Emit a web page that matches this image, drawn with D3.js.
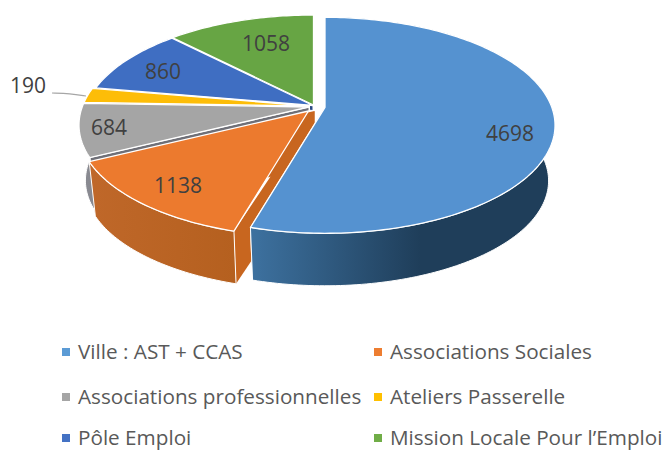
<!DOCTYPE html>
<html><head><meta charset="utf-8">
<script src="https://cdn.jsdelivr.net/npm/d3@7"></script>
<style>html,body{margin:0;padding:0;background:#fff;overflow:hidden}svg{display:block}</style>
</head><body><div id="c"></div>
<script>
const categories = ["Ville : AST + CCAS","Associations Sociales","Associations professionnelles","Ateliers Passerelle","Pôle Emploi","Mission Locale Pour l’Emploi"];
const values = [4698,1138,684,190,860,1058];
const topColors = ["#5592d0","#ec7a2e","#a5a5a5","#fdbd08","#3f6ec2","#67a544"];
const wallDark = ["#1f3e5a","#b5601f","#6f7078","#a87c05","#2a4a85","#44702c"];
const wallLight = ["#3d719f","#c0682a","#8a8b92","#a87c05","#2a4a85","#44702c"];
const legendColors = ["#5b9bd5","#ed7d31","#a5a5a5","#ffc000","#4472c4","#70ad47"];

// layout
const W=670,H=450, base=[311.5,106];
const sliceShift=[[13.5,1.3],[-3,5],[-2.5,1],[-2,0],[1.5,-0.5],[2,-1]];
const faceDepth=[56,56,5,5,5,5], faceApexNudge=[0,6,0,0,0,0];
const R=226.8,K=105,P=1/6, depth=56, bottomScale=0.972;
const labelPos=[[510,134],[178,186],[109,128],[28,86],[163,72],[266,44]];
const leader=[[52,93],[70,93.5],[86,96]];
const legendX=[78,390], legendY=[352,397,438], swatch=8;

const svg=d3.select("#c").append("svg").attr("width",W).attr("height",H);
const defs=svg.append("defs");
const slices=d3.pie().sort(null).value(d=>d)(values);

function project(a,r,o,bottom){
  const s=bottom?bottomScale:1, X=r*Math.sin(a), Y=r*Math.cos(a), d=1+P*Y;
  return [o[0]+s*R*X/d, o[1]+(bottom?depth:0)-s*K*Y/d];
}
const line=d3.line();
function arcPts(a0,a1,o,bottom){
  const n=Math.max(2,Math.ceil((a1-a0)/0.02));
  return d3.range(n+1).map(i=>project(a0+(a1-a0)*i/n,1,o,bottom));
}
const order=[5,4,3,2,1,0];
order.forEach(i=>{
  const sl=slices[i];
  const o=[base[0]+sliceShift[i][0], base[1]+sliceShift[i][1]];
  const g=svg.append("g");
  const gid="w"+i;
  const lg=defs.append("linearGradient").attr("id",gid).attr("gradientUnits","userSpaceOnUse")
    .attr("x1",i===0?252:80).attr("x2",i===0?420:235).attr("y1",0).attr("y2",0);
  lg.append("stop").attr("offset",0).attr("stop-color",wallLight[i]);
  lg.append("stop").attr("offset",1).attr("stop-color",wallDark[i]);
  const apexT=project(0,0,o,false);
  const fa=[apexT[0]+faceApexNudge[i],apexT[1]];
  [sl.endAngle,sl.startAngle].forEach(a=>{
    const pT=project(a,1,o,false), pB=project(a,1,o,true);
    const k=faceDepth[i]/depth;
    const pB2=[pT[0]+(pB[0]-pT[0])*k, pT[1]+(pB[1]-pT[1])*k];
    g.append("path").attr("d",line([fa,pT,pB2,[fa[0],fa[1]+faceDepth[i]]])+"Z")
      .attr("fill",i===1?"#c8661f":wallDark[i]).attr("stroke",i===1?"none":"#fff").attr("stroke-width",1);
  });
  const top=arcPts(sl.startAngle,sl.endAngle,o,false);
  const bot=arcPts(sl.startAngle,sl.endAngle,o,true).reverse();
  g.append("path").attr("d",line(top.concat(bot))+"Z").attr("fill",`url(#${gid})`).attr("stroke","#fff").attr("stroke-width",1);
  g.append("path").attr("d",line([apexT].concat(top))+"Z").attr("fill",topColors[i]).attr("stroke","#fff").attr("stroke-width",1.3).attr("stroke-linejoin","round");
});

svg.append("path").attr("d",d3.line().curve(d3.curveBasis)(leader)).attr("fill","none").attr("stroke","#a6a6a6").attr("stroke-width",1.2);

svg.selectAll("text.v").data(values).join("text").attr("class","v")
  .attr("x",(d,i)=>labelPos[i][0]).attr("y",(d,i)=>labelPos[i][1]).attr("dy","0.35em")
  .attr("text-anchor","middle").attr("font-family","'Open Sans'").attr("font-size",21)
  .attr("fill","#404040").text(d=>d);

const leg=svg.selectAll("g.l").data(categories).join("g").attr("class","l")
  .attr("transform",(d,i)=>`translate(${legendX[i%2]},${legendY[Math.floor(i/2)]})`);
leg.append("rect").attr("x",-16).attr("y",-swatch/2).attr("width",swatch).attr("height",swatch).attr("fill",(d,i)=>legendColors[i]);
leg.append("text").attr("x",0).attr("dy","0.35em").attr("font-family","'Open Sans'").attr("font-size",20.7)
  .attr("fill","#595959").text(d=>d);
</script></body></html>
